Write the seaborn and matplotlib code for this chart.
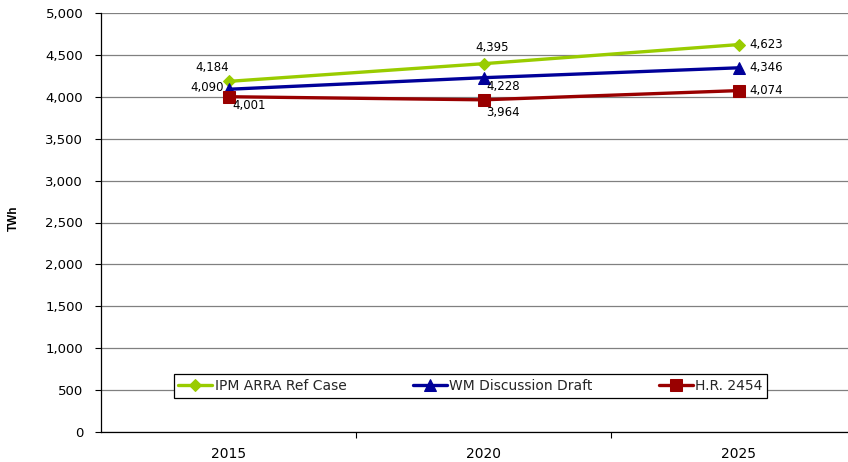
import matplotlib
matplotlib.use("Agg")
import matplotlib.pyplot as plt
from matplotlib.ticker import FuncFormatter, FixedLocator
import seaborn as sns
import pandas as pd

# Electricity demand by scenario (TWh)
years = ["2015", "2020", "2025"]
ipm_arra = [4184, 4395, 4623]
wm_draft = [4090, 4228, 4346]
hr_2454 = [4001, 3964, 4074]
series_names = ["IPM ARRA Ref Case", "WM Discussion Draft", "H.R. 2454"]
y_ticks = list(range(0, 5001, 500))

series_values = [ipm_arra, wm_draft, hr_2454]
df = pd.DataFrame({
    "Year": years * 3,
    "TWh": ipm_arra + wm_draft + hr_2454,
    "Scenario": [n for n in series_names for _ in years],
})

sns.set_theme(style="white")
plt.rcParams["font.family"] = ["DejaVu Sans"]

colors = {"IPM ARRA Ref Case": "#99CC00",
          "WM Discussion Draft": "#000099",
          "H.R. 2454": "#990000"}
markers = {"IPM ARRA Ref Case": ("D", 6.5),
           "WM Discussion Draft": ("^", 8),
           "H.R. 2454": ("s", 9)}

fig = plt.figure(figsize=(8.48, 4.62), dpi=100)
ax = fig.add_axes([101 / 848, 30 / 462, 765 / 848, 419 / 462])

for name in series_names:
    sub = df[df["Scenario"] == name]
    m, ms = markers[name]
    sns.lineplot(data=sub, x="Year", y="TWh", ax=ax, color=colors[name],
                 marker=m, markersize=ms, markeredgecolor=colors[name],
                 linewidth=2.4, label=name, zorder=3)

# data labels: (dx, dy) in points, horizontal alignment
label_pos = {
    "IPM ARRA Ref Case": [(-12, 10, "center"), (6, 12, "center"), (8, 0, "left")],
    "WM Discussion Draft": [(-3, 1, "right"), (2, -6, "left"), (8, 0, "left")],
    "H.R. 2454": [(3, -6, "left"), (2, -9, "left"), (8, 0, "left")],
}
for name, vals in zip(series_names, series_values):
    for i, (yr, v) in enumerate(zip(years, vals)):
        dx, dy, ha = label_pos[name][i]
        ax.annotate(f"{v:,}", xy=(i, v), xytext=(dx, dy),
                    textcoords="offset points", ha=ha, va="center",
                    fontsize=8.5, color="black", zorder=4)

ax.set_xlim(-0.5, 2.5)
ax.set_ylim(0, 5000)
ax.yaxis.set_major_locator(FixedLocator(y_ticks))
ax.yaxis.set_major_formatter(FuncFormatter(lambda v, p: f"{int(v):,}"))
ax.yaxis.grid(True, color="#808080", linewidth=0.9)
ax.xaxis.grid(False)
ax.set_axisbelow(True)

ax.xaxis.set_minor_locator(FixedLocator([0.5, 1.5]))
ax.tick_params(axis="x", which="major", length=0, pad=11, labelsize=10,
               colors="black")
ax.tick_params(axis="x", which="minor", length=4.3, width=0.8, color="black",
               direction="out", bottom=True)
ax.tick_params(axis="y", which="major", length=4.3, width=0.8, color="black",
               direction="out", left=True, pad=8.5, labelsize=9.5,
               labelcolor="black")

for side in ("top", "right"):
    ax.spines[side].set_visible(False)
for side in ("left", "bottom"):
    ax.spines[side].set_color("black")
    ax.spines[side].set_linewidth(0.9)

ax.set_xlabel("")
ax.set_ylabel("TWh", fontsize=8.5, fontweight="bold", color="black",
              family="Liberation Sans")
ax.yaxis.set_label_coords(-0.106, 0.51)

leg = ax.legend(loc="center", bbox_to_anchor=(0.483, 0.11), ncol=3,
                fontsize=10, frameon=True, fancybox=False, edgecolor="black",
                framealpha=1, handlelength=2.45, handletextpad=0.15,
                columnspacing=4.8, borderpad=0.35)
leg.get_frame().set_linewidth(0.9)
leg.set_zorder(5)

fig.savefig("out.png", dpi=100)
